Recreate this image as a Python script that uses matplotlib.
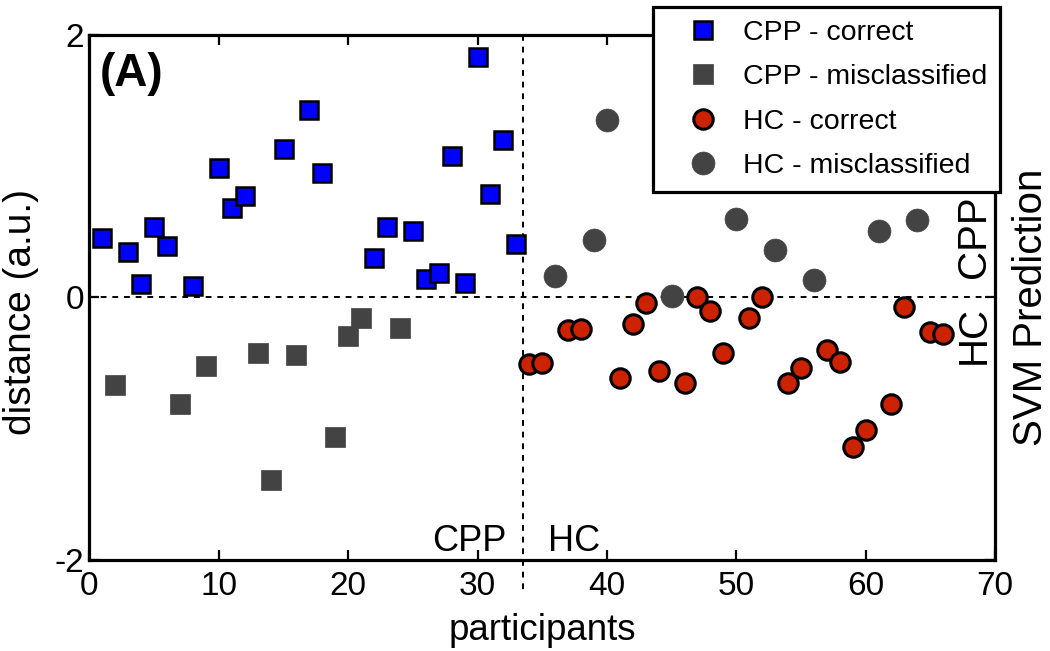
import matplotlib
matplotlib.use("Agg")
import matplotlib.pyplot as plt

plt.rcParams['font.family'] = ['Liberation Sans', 'DejaVu Sans']
plt.rcParams['axes.unicode_minus'] = False

# ---- data ----
cpp_correct_x = [1, 3, 4, 5, 6, 8, 10, 11, 12, 15, 17, 18, 22, 23, 25, 26, 27, 28, 29, 30, 31, 32, 33]
cpp_correct_y = [0.45, 0.35, 0.10, 0.54, 0.39, 0.09, 0.99, 0.68, 0.77, 1.13, 1.43, 0.95,
                 0.30, 0.54, 0.51, 0.14, 0.19, 1.08, 0.11, 1.83, 0.79, 1.20, 0.41]
cpp_mis_x = [2, 7, 9, 13, 14, 16, 19, 20, 21, 24]
cpp_mis_y = [-0.67, -0.81, -0.52, -0.42, -1.39, -0.44, -1.06, -0.29, -0.16, -0.23]
hc_correct_x = [34, 35, 37, 38, 41, 42, 43, 44, 46, 47, 48, 49, 51, 52, 54, 55, 57, 58, 59, 60, 62, 63, 65, 66]
hc_correct_y = [-0.51, -0.50, -0.25, -0.24, -0.61, -0.20, -0.04, -0.56, -0.65, 0.00, -0.10, -0.42,
                -0.16, 0.00, -0.65, -0.54, -0.40, -0.49, -1.14, -1.01, -0.81, -0.07, -0.26, -0.28]
hc_mis_x = [36, 39, 40, 45, 50, 53, 56, 61, 64]
hc_mis_y = [0.16, 0.44, 1.35, 0.01, 0.60, 0.36, 0.13, 0.51, 0.59]

legend_labels = ['CPP - correct', 'CPP - misclassified', 'HC - correct', 'HC - misclassified']
x_ticks = [0, 10, 20, 30, 40, 50, 60, 70]
y_ticks = [-2, 0, 2]
group_boundary = 33.5

GRAY = '#434343'
RED = '#cc2200'
BLUE = '#0000ff'

fig = plt.figure(figsize=(10.5, 6.51), dpi=100)
ax = fig.add_axes([0.0852, 0.1398, 0.8624, 0.8065])

# reference lines
ax.axhline(0, color='black', lw=1.4, ls=(0, (3, 3)), zorder=1)
ax.plot([group_boundary, group_boundary], [2, -2.23], color='black', lw=1.4,
        ls=(0, (3, 3)), zorder=1, clip_on=False)

h1, = ax.plot(cpp_correct_x, cpp_correct_y, 's', ms=13, mfc=BLUE, mec='black', mew=1.8, zorder=3)
h2, = ax.plot(cpp_mis_x, cpp_mis_y, 's', ms=14.5, mfc=GRAY, mec=GRAY, mew=0.5, zorder=3)
h3, = ax.plot(hc_correct_x, hc_correct_y, 'o', ms=14, mfc=RED, mec='black', mew=2.2, zorder=3)
h4, = ax.plot(hc_mis_x, hc_mis_y, 'o', ms=16.5, mfc=GRAY, mec=GRAY, mew=0.5, zorder=3)

ax.set_xlim(0, 70)
ax.set_ylim(-2, 2)
ax.set_xticks(x_ticks)
ax.set_yticks(y_ticks)
ax.tick_params(direction='in', length=7, width=1.6, top=True, right=True, labelsize=24)
ax.tick_params(axis='x', pad=8)
ax.tick_params(axis='y', pad=4)
for s in ax.spines.values():
    s.set_linewidth(2.3)

# annotations
ax.text(0.8, 1.70, '(A)', fontsize=33, fontweight='bold', ha='left', va='center')
ax.text(32.25, -1.935, 'CPP', fontsize=26, ha='right', va='baseline')
ax.text(35.45, -1.935, 'HC', fontsize=26, ha='left', va='baseline')
ax.text(69.2, 0.15, 'CPP', fontsize=29, rotation=90, rotation_mode='anchor',
        ha='left', va='baseline')
ax.text(69.2, -0.51, 'HC', fontsize=29, rotation=90, rotation_mode='anchor',
        ha='left', va='baseline')

fig.text(1031 / 1050, 1 - 307 / 651, 'SVM Prediction', fontsize=29, rotation=90,
         ha='center', va='center')
fig.text(21.5 / 1050, 1 - 312 / 651, 'distance (a.u.)', fontsize=28, rotation=90,
         ha='center', va='center')
fig.text(542 / 1050, 1 - 630 / 651, 'participants', fontsize=26.5, ha='center', va='center')

leg = ax.legend([h1, h2, h3, h4], legend_labels, loc='upper left',
                bbox_to_anchor=((653 - 89.5) / 905.5, (560 - 7) / 525),
                fontsize=20.5, frameon=True, fancybox=False, framealpha=1.0,
                borderpad=0.45, handlelength=2.6, handletextpad=0.12,
                labelspacing=0.65, borderaxespad=0.0, numpoints=1)
leg.get_frame().set_edgecolor('black')
leg.get_frame().set_linewidth(2.3)
leg.set_zorder(5)

fig.savefig('out.png', dpi=100)
